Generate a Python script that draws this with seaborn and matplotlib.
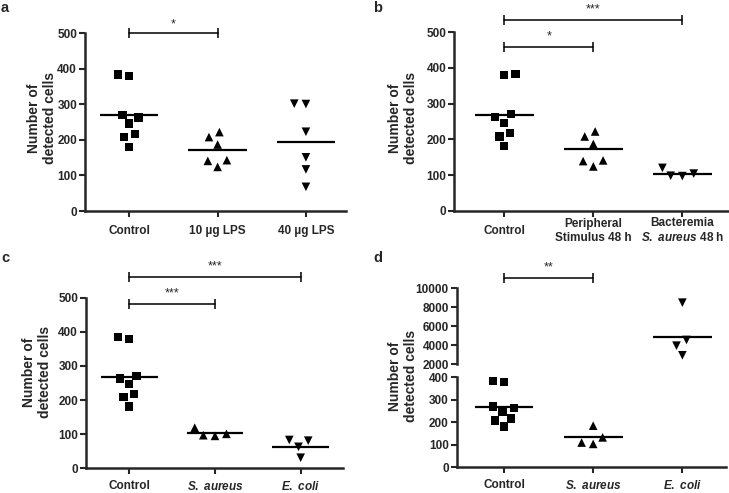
import numpy as np
import matplotlib
matplotlib.use("Agg")
import matplotlib.pyplot as plt
import seaborn as sns

# ---------------- data ----------------
cats_a = ["Control", "10 µg LPS", "40 µg LPS"]
control = [384, 380, 270, 263, 246, 217, 208, 181]
lps_10 = [222, 208, 187, 143, 141, 124]
lps_40 = [302, 301, 223, 151, 117, 68]
lines_a = [269, 172, 193]

cats_b = ["Control", "Peripheral\nStimulus 48 h", "Bacteremia\n$\\mathit{S.\\ aureus}$ 48 h"]
peripheral_48h = [222, 208, 187, 141, 139, 124]
bacteremia_48h = [120, 104, 97, 98]
lines_b = [269, 172, 103]

cats_c = ["Control", "$\\mathit{S.\\ aureus}$", "$\\mathit{E.\\ coli}$"]
s_aureus_c = [119, 101, 95, 97]
e_coli_c = [81, 83, 63, 31]
lines_c = [269, 103, 63]

cats_d = ["Control", "$\\mathit{S.\\ aureus}$", "$\\mathit{E.\\ coli}$"]
s_aureus_d = [185, 133, 104, 110]
e_coli_d = [8490, 4560, 3960, 2950]
lines_d = [270, 136, 4910]

yticks_abc = [0, 100, 200, 300, 400, 500]
yticks_d_low = [0, 100, 200, 300, 400]
yticks_d_high = [2000, 4000, 6000, 8000, 10000]

ylabel = "Number of\ndetected cells"

# ---------------- style ----------------
sns.set_style("ticks")
plt.rcParams["font.family"] = ["Liberation Sans", "DejaVu Sans"]
plt.rcParams["font.weight"] = "bold"
plt.rcParams["mathtext.fontset"] = "custom"
plt.rcParams["mathtext.it"] = "Liberation Sans:italic:bold"
plt.rcParams["mathtext.rm"] = "Liberation Sans:bold"
plt.rcParams["mathtext.bf"] = "Liberation Sans:bold"

W, H = 729, 493
fig = plt.figure(figsize=(W / 100, H / 100), dpi=100)


def add_axes(left, right, bottom, top):
    return fig.add_axes([left / W, 1 - bottom / H, (right - left) / W, (bottom - top) / H])


def draw_groups(ax, cats, groups, markers, sizes):
    for cat, vals, m, s in zip(cats, groups, markers, sizes):
        if vals is None:
            continue
        # invisible edge width widens the swarm spacing without changing the look
        sns.swarmplot(x=[cat] * len(vals), y=vals, order=cats, marker=m,
                      color="black", size=s, linewidth=1.8, edgecolor="none", ax=ax)


def mean_lines(ax, vals, idx=None, half=0.33):
    pos = np.arange(len(vals)) if idx is None else np.asarray(idx)
    ax.hlines(vals, pos - half, pos + half, colors="black", lw=1.6, zorder=3)


def style(ax, xlim, ylim, yticks, xaxis=True, xpad=10):
    ax.set_xlim(xlim)
    ax.set_ylim(ylim)
    ax.set_yticks(yticks)
    ax.set_xlabel("")
    ax.set_ylabel("")
    for s in ["top", "right"]:
        ax.spines[s].set_visible(False)
    ax.spines["left"].set_linewidth(1.8)
    ax.spines["bottom"].set_linewidth(1.8)
    ax.tick_params(axis="y", direction="out", length=4.2, width=1.5,
                   labelsize=8.5, pad=1.5)
    ax.tick_params(axis="x", direction="out", length=4.5, width=1.5,
                   labelsize=8.5, pad=xpad)
    for t in ax.get_xticklabels():
        t.set_va("center")
        t.set_fontweight("bold")
    for t in ax.get_yticklabels():
        t.set_fontweight("bold")
    if not xaxis:
        ax.spines["bottom"].set_visible(False)
        ax.tick_params(axis="x", length=0, labelbottom=False)


def bracket(ax, x0, x1, y, text, dy=3.2):
    ax.plot([x0, x1], [y, y], color="black", lw=1.1, marker="|", ms=7.2,
            mew=1.1, clip_on=False, zorder=4)
    ax.annotate(text, xy=((x0 + x1) / 2, y), xytext=(0, dy),
                textcoords="offset points", ha="center", va="bottom",
                fontsize=9, fontweight="normal", annotation_clip=False)


# ---------------- panel a ----------------
ax_a = add_axes(85, 346, 211, 33.3)
draw_groups(ax_a, cats_a, [control, lps_10, lps_40], ["s", "^", "v"], [5.9, 6.2, 6.2])
mean_lines(ax_a, lines_a)
style(ax_a, (-0.502, 2.454), (0, 500), yticks_abc)
bracket(ax_a, 0, 1, 500, "*", dy=2.0)

# ---------------- panel b ----------------
ax_b = add_axes(454.3, 728, 210.7, 32.3)
draw_groups(ax_b, cats_b, [control, peripheral_48h, bacteremia_48h], ["s", "^", "v"], [5.9, 6.2, 6.2])
mean_lines(ax_b, lines_b)
style(ax_b, (-0.562, 2.513), (0, 500), yticks_abc)
bracket(ax_b, 0, 2, 534, "***")
bracket(ax_b, 0, 1, 460, "*")

# ---------------- panel c ----------------
ax_c = add_axes(86, 343, 468.3, 297.7)
draw_groups(ax_c, cats_c, [control, s_aureus_c, e_coli_c], ["s", "^", "v"], [5.9, 6.2, 6.2])
mean_lines(ax_c, lines_c)
style(ax_c, (-0.505, 2.494), (0, 500), yticks_abc, xpad=8.5)
bracket(ax_c, 0, 2, 560, "***")
bracket(ax_c, 0, 1, 481, "***")

# ---------------- panel d (broken axis) ----------------
ax_dl = add_axes(456.7, 726, 467.3, 377.3)
ax_dh = add_axes(456.7, 726, 364.3, 288.3)
draw_groups(ax_dl, cats_d, [control, s_aureus_d, None], ["s", "^", "v"], [5.9, 6.2, 6.2])
mean_lines(ax_dl, lines_d[:2], idx=[0, 1])
style(ax_dl, (-0.530, 2.489), (0, 400), yticks_d_low, xpad=8.5)
draw_groups(ax_dh, cats_d, [None, None, e_coli_d], ["s", "^", "v"], [5.9, 6.2, 6.2])
mean_lines(ax_dh, lines_d[2:], idx=[2])
style(ax_dh, (-0.530, 2.489), (2000, 10000), yticks_d_high, xaxis=False)
ax_dh.patch.set_alpha(0)
bracket(ax_dh, 0, 1, 11050, "**")

# ---------------- labels ----------------
for (x, y) in [(42, 118), (403, 118), (37, 372), (403, 376)]:
    fig.text(x / W, 1 - y / H, ylabel, rotation=90, ha="center", va="center",
             multialignment="center", fontsize=10, fontweight="bold")

for (x, y, t) in [(1, 12, "a"), (373, 12, "b"), (1, 262, "c"), (373, 262, "d")]:
    fig.text(x / W, 1 - y / H, t, ha="left", va="baseline", fontsize=10.5,
             fontweight="bold")

fig.savefig("out.png", dpi=100)
